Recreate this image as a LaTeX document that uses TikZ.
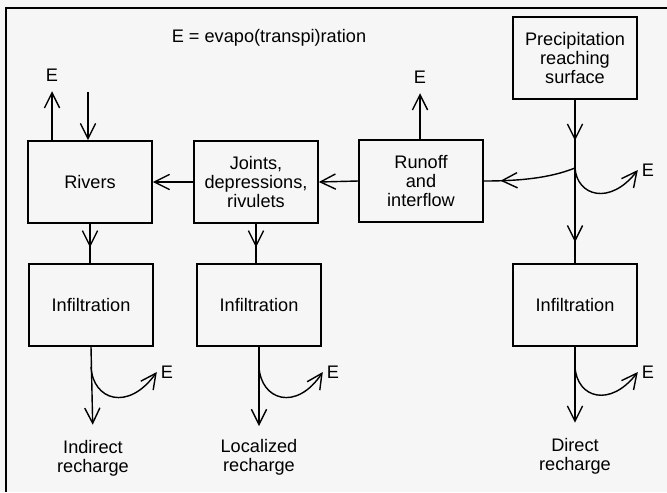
\documentclass[tikz,border=0pt]{standalone}
\usepackage{fontspec}
\setmainfont{Liberation Sans}
\usetikzlibrary{arrows.meta, decorations.markings}

\tikzset{
  box/.style={draw, line width=1.4pt, minimum width=3.72cm, minimum height=2.46cm, align=center, inner sep=2pt},
  flow/.style={line width=1.2pt, -{Straight Barb[length=13pt,width=13pt]}},
  midarrow/.style={line width=1.2pt, postaction={decorate},
    decoration={markings, mark=at position #1 with {\arrow{Straight Barb[length=13pt,width=13pt]}}}},
  lbl/.style={align=center, inner sep=1pt},
}

\begin{document}
\begin{tikzpicture}[x=0.03cm, y=-0.03cm, font=\fontsize{15.5}{16}\selectfont]
\fill[gray!7] (0,0) rectangle (667,492);
\useasboundingbox (0,0) rectangle (667,492);
\draw[line width=2.4pt] (667,8) -- (6,8) -- (6,492);

% boxes
\node[box] (prec) at (575,58) {Precipitation\\reaching\\surface};
\node[box] (rivers) at (90,182) {Rivers};
\node[box] (joints) at (256,182) {Joints,\\depressions,\\rivulets};
\node[box] (runoff) at (421,181) {Runoff\\and\\interflow};
\node[box] (inf1) at (91,305) {Infiltration};
\node[box] (inf2) at (259,305) {Infiltration};
\node[box] (inf3) at (575,305) {Infiltration};

% labels
\node (legend) at (269,38) {E = evapo(transpi)ration};
\node (e0) at (52,75) {E};
\node (e4) at (420,77) {E};
\node (e5) at (648,170) {E};
\node (e1) at (167,372) {E};
\node (e2) at (333,372) {E};
\node (e3) at (648,372) {E};
\node[lbl] (ind) at (93,458) {Indirect\\recharge};
\node[lbl] (loc) at (259,457) {Localized\\recharge};
\node[lbl] (dir) at (575,456) {Direct\\recharge};

\coordinate (rain) at (88,92);
\coordinate (split) at (575,168);
\coordinate (b1) at (91,367);
\coordinate (b2) at (259,367);
\coordinate (b3) at (575,367);

% top part
\draw[flow] (rain) -- (rain |- rivers.north);
\draw[flow, shorten >=5pt] (rivers.north -| e0) -- (e0.south);
\draw[flow, shorten >=5pt] (runoff.north -| e4) -- (e4.south);
\draw[flow] (runoff.west) -- (joints.east);
\draw[flow] (joints.west) -- (rivers.east);
\draw[midarrow=0.6] (prec.south) -- (split);
\draw[midarrow=0.78] (split) -- (inf3.north);
\draw[midarrow=0.82] (split) .. controls (550,178) and (520,181) .. (runoff.east);
\draw[flow] (split) .. controls (577,196) and (610,206) .. (e5.west);

% down to infiltration
\draw[midarrow=0.6] (rivers.south) -- (rivers.south |- inf1.north);
\draw[midarrow=0.6] (joints.south) -- (joints.south |- inf2.north);

% recharge
\draw[flow, shorten >=12pt] (inf1.south) -- (ind.north);
\draw[flow, shorten >=10pt] (inf2.south) -- (loc.north);
\draw[flow, shorten >=12pt] (inf3.south) -- (dir.north);
\draw[flow] (b1) .. controls (93,400) and (128,412) .. (e1.west);
\draw[flow] (b2) .. controls (261,400) and (296,412) .. (e2.west);
\draw[flow] (b3) .. controls (577,398) and (610,408) .. (e3.west);
\end{tikzpicture}
\end{document}
